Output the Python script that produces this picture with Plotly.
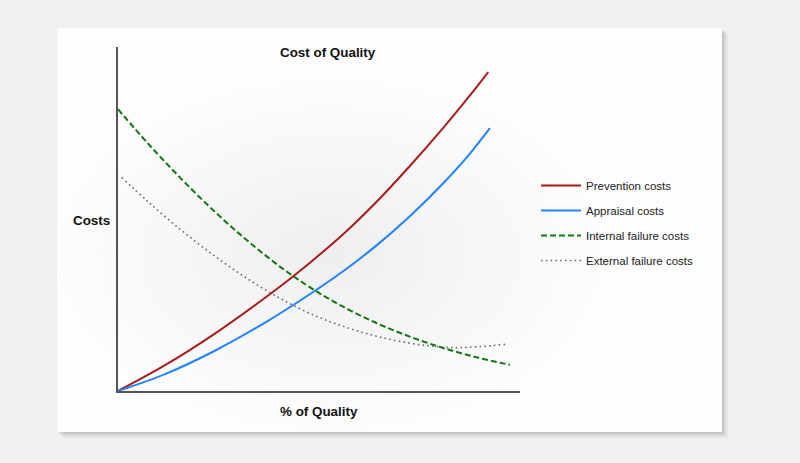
import plotly.graph_objects as go

# ---- data (axis units 0-100) ----
prev_x = [0, 11.7, 24.1, 36.6, 44.0, 56.0, 64.4, 72.6, 80.9, 87.6, 92.1]
prev_y = [0, 7.5, 16.7, 27.1, 33.7, 45.6, 55.1, 65.4, 76.5, 86.0, 92.7]

appr_x = [0, 11.7, 24.1, 36.6, 47.8, 56.0, 64.4, 72.6, 80.9, 87.6, 92.5]
appr_y = [0, 4.9, 11.7, 19.9, 28.2, 34.8, 42.4, 50.8, 60.4, 69.1, 76.4]

int_x = [0, 7.5, 15.8, 24.1, 32.4, 40.7, 47.8, 56.0, 64.4, 72.6, 80.9, 89.2, 97.5]
int_y = [81.9, 71.9, 61.6, 52.1, 43.5, 35.8, 30.1, 24.5, 19.7, 15.8, 12.5, 9.8, 7.6]

ext_x = [0.9, 7.5, 15.8, 24.1, 32.4, 40.7, 48.6, 56.0, 64.4, 72.6, 79.3, 85.1, 96.7]
ext_y = [62.1, 55.0, 46.7, 39.2, 32.5, 26.7, 22.1, 18.8, 15.9, 13.9, 12.9, 12.6, 13.6]

names = ["Prevention costs", "Appraisal costs", "Internal failure costs", "External failure costs"]

W, H = 800, 463

fig = go.Figure()
fig.add_trace(go.Scatter(x=prev_x, y=prev_y, name=names[0], mode="lines", legendgroup="a",
                         line=dict(color="#a81b1b", width=2, shape="spline")))
fig.add_trace(go.Scatter(x=appr_x, y=appr_y, name=names[1], mode="lines", legendgroup="b",
                         line=dict(color="#2183ff", width=2, shape="spline")))
fig.add_trace(go.Scatter(x=int_x, y=int_y, name=names[2], mode="lines", legendgroup="c",
                         line=dict(color="#117811", width=2, dash="6px,3px", shape="spline")))
fig.add_trace(go.Scatter(x=ext_x, y=ext_y, name=names[3], mode="lines", legendgroup="d",
                         line=dict(color="#6a6a6a", width=1.6, dash="1.6px,3.2px", shape="spline")))

def px(v):
    return v / W

def py(v):
    return 1 - v / H

shapes = []
# card shadow
for off, op in [(6, 0.04), (4, 0.06), (2, 0.09)]:
    shapes.append(dict(type="rect", xref="paper", yref="paper", layer="below",
                       x0=px(57 + off), x1=px(722 + off), y0=py(432 + off), y1=py(28 + off),
                       fillcolor="rgba(0,0,0,%.2f)" % op, line=dict(width=0)))
# card
shapes.append(dict(type="rect", xref="paper", yref="paper", layer="below",
                   x0=px(57), x1=px(722), y0=py(432), y1=py(28),
                   fillcolor="#fdfdfd", line=dict(width=0)))
# soft radial shading inside the card
cx, cy = 330, 255
n = 14
for i in range(n):
    f = 1 - i / n
    rx, ry = 270 * f, 174 * f
    shapes.append(dict(type="circle", xref="paper", yref="paper", layer="below",
                       x0=px(cx - rx), x1=px(cx + rx), y0=py(cy + ry), y1=py(cy - ry),
                       fillcolor="rgba(0,0,0,0.0045)", line=dict(width=0)))

lab_font = dict(size=13.4, color="#111111")

fig.update_layout(
    width=W, height=H,
    margin=dict(l=0, r=0, t=0, b=0),
    paper_bgcolor="#f0f0f0",
    plot_bgcolor="rgba(0,0,0,0)",
    font=dict(family="Liberation Sans, Arial, sans-serif", color="#1a1a1a"),
    shapes=shapes,
    showlegend=True,
    legend=dict(x=px(536), y=py(171), xanchor="left", yanchor="top",
                bgcolor="rgba(0,0,0,0)", font=dict(size=11.5, color="#222222"),
                itemwidth=40, traceorder="grouped", tracegroupgap=6),
    xaxis=dict(domain=[px(118), px(520)], range=[0, 100], showgrid=False, zeroline=False,
               showticklabels=False, ticks="", showline=True, linecolor="#555555", linewidth=1.5,
               fixedrange=True),
    yaxis=dict(domain=[py(391), py(47)], range=[0, 100], showgrid=False, zeroline=False,
               showticklabels=False, ticks="", showline=True, linecolor="#555555", linewidth=1.5,
               fixedrange=True),
    annotations=[
        dict(text="<b>Cost of Quality</b>", xref="paper", yref="paper", x=px(328), y=py(52),
             xanchor="center", yanchor="middle", showarrow=False, font=lab_font),
        dict(text="<b>Costs</b>", xref="paper", yref="paper", x=px(91), y=py(220),
             xanchor="center", yanchor="middle", showarrow=False, font=lab_font),
        dict(text="<b>% of Quality</b>", xref="paper", yref="paper", x=px(319), y=py(411),
             xanchor="center", yanchor="middle", showarrow=False, font=lab_font),
    ],
)

post = ("document.documentElement.style.margin='0';document.body.style.margin='0';"
        "document.body.style.padding='0';document.body.style.background='#f0f0f0';"
        "document.body.style.overflow='hidden';")
fig.write_html("out.html", post_script=post, config={"displayModeBar": False})
